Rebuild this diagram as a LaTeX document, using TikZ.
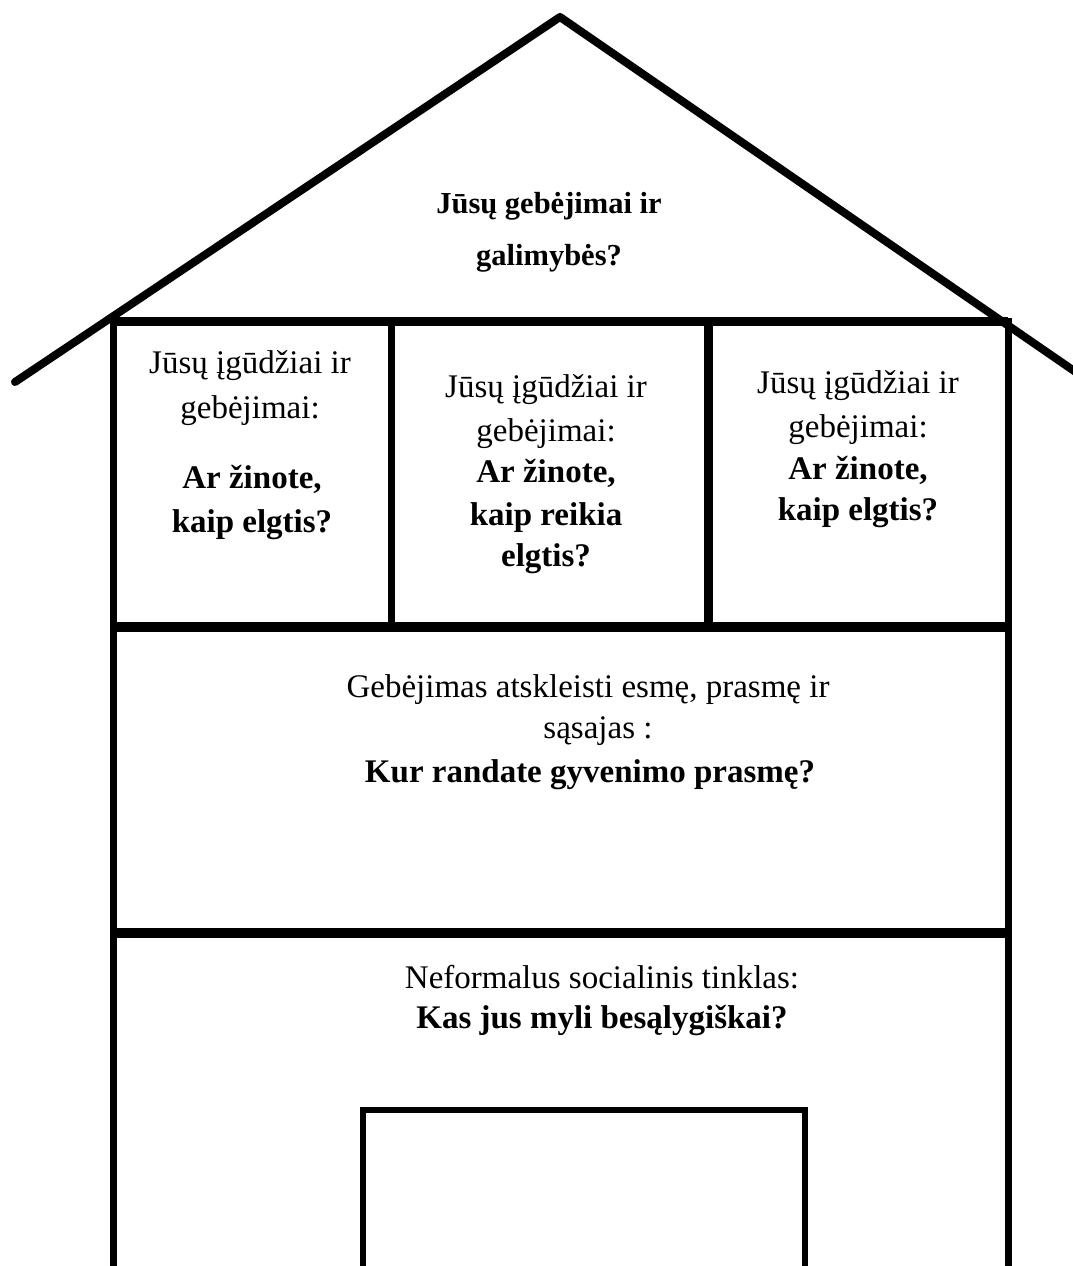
\documentclass[tikz,border=0pt]{standalone}
\usepackage{fontspec}
\setmainfont{Liberation Serif}
\begin{document}
\begin{tikzpicture}[x=1pt,y=-1pt,
  wall/.style={line width=7pt,line cap=rect},
  band/.style={line width=10pt},
  roofline/.style={line width=8pt,line cap=round,line join=round},
  txt/.style={anchor=base,inner sep=0pt,font=\fontsize{33}{40}\selectfont},
  btxt/.style={anchor=base,inner sep=0pt,font=\fontsize{33}{40}\selectfont\bfseries},
  rtxt/.style={anchor=base,inner sep=0pt,font=\fontsize{30.5}{36}\selectfont\bfseries}]
\useasboundingbox (0,0) rectangle (1073,1266);
\fill[white] (0,0) rectangle (1073,1266);
% roof
\coordinate (roofL) at (15,382);
\coordinate (peak) at (560,17);
\coordinate (roofR) at (1080,375);
\draw[roofline] (roofL) -- (peak) -- (roofR);
% house frame
\coordinate (tl) at (110,321);
\coordinate (tr) at (1008,321);
\draw[line width=9pt] (tl) -- (tr);
\draw[wall] (113,321) -- (113,1270);
\draw[wall] (1008,321) -- (1008,1270);
\draw[line width=7pt] (391,321) -- (391,627);
\draw[line width=9pt] (708,321) -- (708,627);
\draw[band] (113,627) -- (1008,627);
\draw[band] (113,933) -- (1008,933);
% door
\draw[line width=6pt] (363,1270) -- (363,1110) -- (805,1110) -- (805,1270);
% roof text
\node[rtxt] (r1) at (549,213) {Jūsų gebėjimai ir};
\node[rtxt] (r2) at (549,265) {galimybės?};
% left box
\node[txt] (a1) at (250,373) {Jūsų įgūdžiai ir};
\node[txt] (a2) at (250,418) {gebėjimai:};
\node[btxt] (a3) at (252,488) {Ar žinote,};
\node[btxt] (a4) at (252,532) {kaip elgtis?};
% middle box
\node[txt] (b1) at (546,397) {Jūsų įgūdžiai ir};
\node[txt] (b2) at (546,441) {gebėjimai:};
\node[btxt] (b3) at (546,482) {Ar žinote,};
\node[btxt] (b4) at (546,525) {kaip reikia};
\node[btxt] (b5) at (546,566) {elgtis?};
% right box
\node[txt] (c1) at (858,393) {Jūsų įgūdžiai ir};
\node[txt] (c2) at (858,437) {gebėjimai:};
\node[btxt] (c3) at (858,479) {Ar žinote,};
\node[btxt] (c4) at (858,520) {kaip elgtis?};
% middle band
\node[txt] (m1) at (588,697) {Gebėjimas atskleisti esmę, prasmę ir};
\node[txt] (m2) at (598,738) {sąsajas :};
\node[btxt] (m3) at (590,782) {Kur randate gyvenimo prasmę?};
% bottom band
\node[txt] (n1) at (602,988) {Neformalus socialinis tinklas:};
\node[btxt] (n2) at (602,1028) {Kas jus myli besąlygiškai?};
\end{tikzpicture}
\end{document}
